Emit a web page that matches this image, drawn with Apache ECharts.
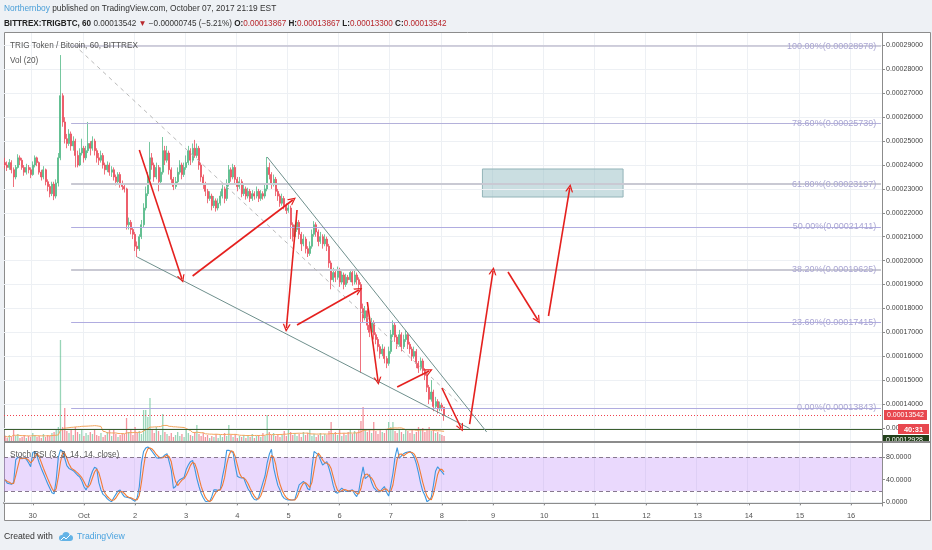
<!DOCTYPE html>
<html><head><meta charset="utf-8">
<script src="https://cdn.jsdelivr.net/npm/echarts@6/dist/echarts.min.js"></script>
<style>html,body{margin:0;padding:0;background:#eef1f5}#c{width:932px;height:550px}</style>
</head><body><div id="c"></div><script>
// Prices in satoshi (1e-8 BTC), hourly candles from Sep 29 11:00
const firstOpen = 24100;
const closes = [
24000,23900,24100,23800,23500,23900,24300,24200,23900,23700,
23900,23800,23600,24000,24300,24100,23700,23500,23800,23300,
23100,22800,23200,22700,23250,24300,26900,25800,25100,24900,
25300,24800,25000,24400,24000,24500,24700,24300,24600,24900,
24700,25000,24600,24300,24200,24400,24000,23800,24000,23700,
23800,23500,23300,23600,23200,23100,23000,21500,21600,21300,
21100,20600,20500,21000,21500,22200,22800,23400,24300,24000,
23500,23900,23300,23700,24600,24200,24500,23800,23400,23100,
23300,23700,24000,23600,23900,24100,24600,24200,24700,24400,
24700,24000,23500,23200,22900,22600,22700,22300,22500,22200,
22400,22700,23000,22600,23200,23800,23500,23900,23400,23100,
23300,22800,23000,22700,22900,22600,22800,22700,22900,22600,
22800,22700,23000,23900,23600,23200,23400,22900,22700,22400,
22600,22300,22100,22200,21500,21000,21300,21600,21100,20700,
20900,20500,20300,20600,21100,21500,21200,20800,21000,20700,
20900,20600,19900,19200,19500,19300,19600,19100,19400,19000,
19300,19200,19500,19100,19400,19200,19000,18000,17600,17900,
17300,17000,17400,16900,16700,16400,16100,16300,15900,15700,
16200,16900,17300,16800,16500,16900,16400,16700,16900,16500,
16300,16000,16200,15700,15500,15800,15400,15200,14700,14200,
14500,13900,14100,13800,13950,13867,13542];
const highs = [
24300,24150,24250,24200,23900,24000,24450,24400,24300,24000,
24050,24000,23900,24150,24400,24350,24150,23800,23950,23850,
23400,23200,23300,23300,23400,24500,28600,27000,26000,25300,
25500,25400,25200,25100,24600,24700,25100,24800,24800,25800,
25000,25200,25100,24700,24500,24600,24500,24100,24150,24100,
23950,23900,23600,23700,23700,23350,23200,23050,21800,21700,
21400,21200,20800,21100,21700,22400,23100,23700,24960,24500,
24100,24100,24000,23900,25170,24800,24800,24600,23900,23500,
23500,23900,24200,24100,24100,24400,24800,24700,24900,25050,
24900,24800,24100,23600,23300,23000,22900,22800,22700,22600,
22600,22900,23200,23100,23400,24000,23900,24050,24000,23500,
23500,23400,23200,23100,23050,23000,22950,22900,23100,23000,
22950,22900,23200,24335,24100,23700,23600,23500,23000,22800,
22800,22700,22400,22350,22300,21600,21500,21800,21700,21200,
21100,21000,20600,20800,21300,21650,21600,21300,21200,21100,
21100,21000,20700,20000,19700,19600,19750,19700,19550,19500,
19450,19400,19650,19600,19600,19500,19300,19100,18200,18100,
18000,17400,17600,17500,17000,16800,16500,16500,16400,16000,
16400,17100,17500,17400,16900,17100,17000,16900,17100,17000,
16600,16400,16400,16300,15800,15950,15900,15500,15300,14800,
15000,14600,14300,14200,14100,14050,13867];
const lows = [
23850,23750,23800,23650,23080,23400,23850,24000,23800,23550,
23600,23650,23450,23550,23900,23950,23600,23350,23400,23150,
22900,22650,22700,22530,22600,23100,24200,25600,24900,24700,
24800,24600,24600,23900,23900,23950,24400,24100,24200,24500,
24400,24600,24400,24100,24000,24100,23850,23600,23700,23550,
23500,23350,23150,23200,23050,22950,22850,21300,21300,21100,
20900,20400,20150,20400,20900,21400,22100,22700,23300,23800,
23300,23400,22900,23200,23600,24000,24100,23600,23200,22950,
23000,23200,23600,23400,23500,23800,24000,24000,24100,24300,
24300,23800,23300,23000,22700,22400,22500,22100,22200,22050,
22100,22300,22600,22400,22500,23100,23300,23400,23200,22900,
23000,22650,22700,22550,22600,22450,22500,22550,22600,22450,
22500,22550,22600,22900,23400,23000,23100,22700,22500,22250,
22300,22150,21950,22000,20900,20800,20900,21200,20900,20400,
20600,20300,20150,20200,20500,21000,21000,20600,20700,20500,
20600,20400,19700,18800,19100,19100,19200,18900,19000,18800,
18900,19050,19100,18950,19000,19000,18800,15300,17400,17500,
17100,16800,16900,16700,16500,16200,15900,16000,15700,15500,
15600,16100,16800,16600,16300,16400,16200,16300,16600,16300,
16100,15800,15900,15500,15300,15400,15200,15000,14500,14000,
14100,13700,13800,13600,13700,13700,13300];
// volume in arbitrary units
const volumes = [
5,3,6,4,11,5,7,3,4,6,
3,5,4,8,6,4,5,3,7,4,
6,5,8,9,12,14,101,14,33,10,
8,12,6,14,9,7,11,5,8,6,
9,7,12,6,5,8,4,6,9,12,
5,11,7,4,6,8,7,23,9,12,
6,14,8,10,7,31,31,24,43,12,
8,14,10,6,27,9,7,5,8,4,
6,9,5,7,4,12,8,6,5,9,
16,7,5,8,4,6,3,5,4,7,
3,6,4,8,5,16,6,4,7,3,
5,4,6,3,5,4,7,3,5,6,
4,8,5,26,9,6,8,5,7,4,
6,10,5,12,9,6,8,5,7,4,
9,6,8,11,5,7,4,6,8,5,
7,6,10,19,7,9,6,11,5,8,
6,9,12,7,10,8,11,20,34,12,
9,11,8,19,10,7,12,9,8,11,
19,14,19,10,8,12,9,7,11,10,
8,12,7,9,14,11,13,9,12,14,
10,12,8,9,7,6,5];
const stochK = [
40,34,33,32,35,75,80,78,77,79,
76,70,63,88,90,82,70,60,51,42,
33,25,17,15,40,80,93,90,78,65,
60,58,56,52,48,45,38,28,22,30,
44,55,62,60,35,22,14,11,6,3,
1,8,14,20,22,15,10,9,8,7,
4,2,8,28,70,90,96,98,95,90,
85,79,78,79,80,84,86,72,57,25,
28,36,40,42,44,58,66,72,74,60,
42,28,16,8,2,1,1,10,22,22,
21,23,45,63,92,92,90,88,65,46,
44,43,43,33,24,18,10,5,4,9,
22,35,47,70,85,94,62,45,30,22,
12,7,5,4,4,4,5,18,31,34,
37,33,24,22,60,90,87,84,75,66,
69,72,60,47,30,18,16,21,25,22,
19,20,21,22,15,10,20,43,63,42,
45,49,35,26,22,19,19,24,28,18,
11,30,51,80,97,78,82,86,88,89,
90,86,80,68,52,34,20,12,1,4,
9,30,55,63,58,54,49];

const dayLabels = ['30','Oct','2','3','4','5','6','7','8','9','10','11','12','13','14','15','16'];
const priceTicks = [13000,14000,15000,16000,17000,18000,19000,20000,21000,22000,23000,24000,25000,26000,27000,28000,29000];
const rsiTicks = [0,40,80];
const fibLevels = [['100.00%',28978],['78.60%',25739],['61.80%',23197],['50.00%',21411],['38.20%',19625],['23.60%',17415],['0.00%',13843]];
const lastPrice = 13542;
const lowLine = 12928;
// drawings: [categoryIndex, price]
const arrows = [
 [[63,24628],[83,19230]], [[88,19356],[135,22536]], [[137,22117],[132,17180]],
 [[137,17306],[166,18770]], [[170,18268],[175,14963]], [[184,14712],[199,15381]],
 [[205,14669],[214,12996]], [[218,13163],[229,19569]], [[236,19523],[250,17515]],
 [[255,17682],[265,23038]]];
const trendLines = [[[62,20151],[218,12975]],[[123,24335],[226,12829]]];
const dashedLine = [[35,28812],[214,13958]];
const targetBox = [[224,23833],[290,22661]];
const fibStart = 31, fibEnd = 411, fibLabelAt = 409;

const N_CAT = 412, FIRST_DAY = 13;
const cats = []; for (let i = 0; i < N_CAT; i++) cats.push('h' + i);
const isDay = i => i >= FIRST_DAY && (i - FIRST_DAY) % 24 === 0;

const opens = closes.map((c, i) => i === 0 ? firstOpen : closes[i - 1]);
const candleData = closes.map((c, i) => [opens[i], c, lows[i], highs[i]]);
const UP = '#53b987', DOWN = '#eb4d5c';
const volData = volumes.map((v, i) => ({value: v, itemStyle: {color: closes[i] >= opens[i] ? 'rgba(83,185,135,0.6)' : 'rgba(235,77,92,0.6)'}}));
const volMA = volumes.map((v, i) => { const s = Math.max(0, i - 19); let t = 0; for (let k = s; k <= i; k++) t += volumes[k]; return +(t / (i - s + 1)).toFixed(2); });
const stochD = stochK.map((v, i) => { const s = Math.max(0, i - 2); let t = 0; for (let k = s; k <= i; k++) t += stochK[k]; return +(t / (i - s + 1)).toFixed(2); });

const FONT = "'Liberation Sans', Arial, sans-serif";
const fmt8 = v => (v / 1e8).toFixed(8);
const ARROW = 'path://M5 0 L10 10 L8.3 10 L5 3.4 L1.7 10 L0 10 Z';
const fibStyle = ['#c2c1d2', '#b4b1da', '#c9c9d3', '#b0ace0', '#c9c9d3', '#b0ace0', '#b0ace0'];
const fibWidth = [1.5, 1, 2, 1, 2, 1, 1];

const chart = echarts.init(document.getElementById('c'), null, {renderer: 'canvas'});
const option = {
  animation: false,
  backgroundColor: '#eef1f5',
  textStyle: {fontFamily: FONT},
  grid: [{left: 4, top: 33, width: 878, height: 408}, {left: 4, top: 443, width: 878, height: 63}],
  xAxis: [
    {type: 'category', gridIndex: 0, data: cats, axisLine: {show: false}, axisTick: {show: false}, axisLabel: {show: false},
     splitLine: {show: true, interval: i => isDay(i), lineStyle: {color: '#edf0f4'}}},
    {type: 'category', gridIndex: 1, data: cats,
     axisLine: {show: true, lineStyle: {color: '#8c8c8c', width: 2}},
     axisTick: {show: true, interval: i => isDay(i), alignWithLabel: true, length: 3, lineStyle: {color: '#8c8c8c'}},
     axisLabel: {interval: i => isDay(i), formatter: (v, i) => dayLabels[(i - FIRST_DAY) / 24], fontSize: 7.5, color: '#555', margin: 6},
     splitLine: {show: true, interval: i => isDay(i), lineStyle: {color: '#edf0f4'}}}
  ],
  yAxis: [
    {type: 'value', gridIndex: 0, position: 'right', min: 12452, max: 29523,
     axisLine: {show: true, lineStyle: {color: '#8c8c8c'}},
     axisTick: {show: true, length: 3, customValues: priceTicks, lineStyle: {color: '#8c8c8c'}},
     axisLabel: {customValues: priceTicks, formatter: fmt8, fontSize: 7, color: '#444', margin: 4},
     splitLine: {show: false}},
    {type: 'value', gridIndex: 0, min: 0, max: 408, show: false},
    {type: 'value', gridIndex: 1, position: 'right', min: -6.5, max: 105,
     axisLine: {show: true, lineStyle: {color: '#8c8c8c'}},
     axisTick: {show: true, length: 3, customValues: rsiTicks, lineStyle: {color: '#8c8c8c'}},
     axisLabel: {customValues: rsiTicks, formatter: v => v.toFixed(4), fontSize: 7, color: '#444', margin: 4},
     splitLine: {show: false}}
  ],
  series: [
    {type: 'line', xAxisIndex: 0, yAxisIndex: 0, data: [], silent: true,
     markLine: {silent: true, z: 1, symbol: ['none', 'none'], label: {show: false}, lineStyle: {color: '#edf0f4', width: 1, type: 'solid'},
       data: priceTicks.map(p => ({yAxis: p}))}},
    {type: 'bar', name: 'vol', xAxisIndex: 0, yAxisIndex: 1, data: volData, barWidth: 1.3, silent: true},
    {type: 'line', name: 'volma', xAxisIndex: 0, yAxisIndex: 1, data: volMA, showSymbol: false, silent: true,
     lineStyle: {color: '#f3a45c', width: 1}},
    {type: 'candlestick', xAxisIndex: 0, yAxisIndex: 0, data: candleData, barWidth: 1.5, silent: true,
     itemStyle: {color: UP, color0: DOWN, borderColor: UP, borderColor0: DOWN, borderWidth: 0.8},
     markArea: {silent: true, itemStyle: {color: 'rgba(150,190,196,0.5)', borderColor: '#93b4b8', borderWidth: 1},
       data: [[{coord: targetBox[0]}, {coord: targetBox[1]}]]},
     markLine: {silent: true, symbol: ['none', 'none'], label: {show: false},
       data: fibLevels.map((f, k) => [{coord: [fibStart, f[1]], lineStyle: {color: fibStyle[k], width: fibWidth[k], type: 'solid'}}, {coord: [fibEnd, f[1]]}])},
     markPoint: {silent: true, symbol: 'rect', symbolSize: 1, itemStyle: {color: 'rgba(0,0,0,0)'},
       label: {show: true, position: 'left', distance: 0, color: '#aaa6d3', fontSize: 9, formatter: p => p.name},
       data: fibLevels.map(f => ({name: f[0] + '(' + fmt8(f[1]) + ')', coord: [fibLabelAt, f[1]]}))}},
    {type: 'line', xAxisIndex: 0, yAxisIndex: 0, data: [], silent: true,
     markLine: {silent: true, symbol: ['none', 'none'], lineStyle: {color: '#f0424e', type: [1, 2], width: 1},
       label: {show: true, position: 'end', distance: 2, formatter: fmt8(lastPrice), color: '#fff', backgroundColor: '#e8474f', padding: [2, 3, 1, 3], fontSize: 7},
       data: [{yAxis: lastPrice}]}},
    {type: 'line', xAxisIndex: 0, yAxisIndex: 0, data: [], silent: true,
     markLine: {silent: true, symbol: ['none', 'none'], lineStyle: {color: '#3b5e2e', type: 'solid', width: 1}, label: {show: false},
       data: [{yAxis: lowLine}]}},
    {type: 'line', xAxisIndex: 0, yAxisIndex: 0, data: [], silent: true,
     markLine: {silent: true, symbol: ['none', 'none'], label: {show: false},
       data: trendLines.map(t => [{coord: t[0], lineStyle: {color: '#6f908d', width: 1, type: 'solid'}}, {coord: t[1]}])
         .concat([[{coord: dashedLine[0], lineStyle: {color: '#b9b9b9', width: 1, type: [4, 4]}}, {coord: dashedLine[1]}]])}},
    {type: 'line', xAxisIndex: 0, yAxisIndex: 0, data: [], silent: true,
     markLine: {silent: true, symbol: ['none', ARROW], symbolSize: 8, label: {show: false},
       lineStyle: {color: '#e5201e', width: 1.6, type: 'solid'},
       data: arrows.map(a => [{coord: a[0]}, {coord: a[1]}])}},
    {type: 'line', name: 'K', xAxisIndex: 1, yAxisIndex: 2, data: stochK, showSymbol: false, silent: true,
     lineStyle: {color: '#3d97df', width: 1.1},
     markArea: {silent: true, itemStyle: {color: 'rgba(190,140,250,0.33)'}, data: [[{yAxis: 20}, {yAxis: 80}]]},
     markLine: {silent: true, symbol: ['none', 'none'], label: {show: false},
       data: [{yAxis: 80, lineStyle: {color: '#87788f', type: [4, 3], width: 1}}, {yAxis: 20, lineStyle: {color: '#87788f', type: [4, 3], width: 1}},
              {yAxis: 0, lineStyle: {color: '#e8ebef', type: 'solid', width: 1}}]}},
    {type: 'line', name: 'D', xAxisIndex: 1, yAxisIndex: 2, data: stochD, showSymbol: false, silent: true,
     lineStyle: {color: '#f07b35', width: 1.1}}
  ],
  graphic: [
    {type: 'rect', z: -10, shape: {x: 4.5, y: 32.5, width: 926, height: 488}, style: {fill: '#fff', stroke: '#8c8c8c', lineWidth: 1}},
    {type: 'text', z: 10, style: {x: 4, y: 9, verticalAlign: 'middle', text: '{a|Northernboy}{b| published on TradingView.com, October 07, 2017 21:19 EST}',
      rich: {a: {fill: '#4a9fd8', fontSize: 8.35, fontFamily: FONT}, b: {fill: '#333', fontSize: 8.35, fontFamily: FONT}}}},
    {type: 'text', z: 10, style: {x: 4, y: 23.5, verticalAlign: 'middle',
      text: '{b|BITTREX:TRIGBTC, 60}{n| 0.00013542 }{r|▼}{n| −0.00000745 (−5.21%) }{b|O:}{r|0.00013867}{b| H:}{r|0.00013867}{b| L:}{r|0.00013300}{b| C:}{r|0.00013542}',
      rich: {b: {fill: '#222', fontSize: 8.15, fontWeight: 'bold', fontFamily: FONT}, n: {fill: '#333', fontSize: 8.15, fontFamily: FONT}, r: {fill: '#b8272c', fontSize: 8.15, fontFamily: FONT}}}},
    {type: 'text', z: 10, style: {x: 10, y: 46, verticalAlign: 'middle', text: 'TRIG Token / Bitcoin, 60, BITTREX', fill: '#555', fontSize: 8.2, fontFamily: FONT}},
    {type: 'text', z: 10, style: {x: 10, y: 60.5, verticalAlign: 'middle', text: 'Vol (20)', fill: '#555', fontSize: 8.2, fontFamily: FONT}},
    {type: 'text', z: 10, style: {x: 10, y: 455, verticalAlign: 'middle', text: 'Stoch RSI (3, 3, 14, 14, close)', fill: '#555', fontSize: 8.2, fontFamily: FONT}},
    {type: 'rect', z: 50, shape: {x: 898, y: 424, width: 31, height: 10}, style: {fill: '#e8474f'}},
    {type: 'text', z: 51, style: {x: 913.5, y: 429.5, align: 'center', verticalAlign: 'middle', text: '40:31', fill: '#fff', fontSize: 7.5, fontWeight: 'bold', fontFamily: FONT}},
    {type: 'rect', z: 50, shape: {x: 883, y: 435, width: 46, height: 8}, style: {fill: '#22401a'}},
    {type: 'text', z: 51, style: {x: 886, y: 440, verticalAlign: 'middle', text: '0.00012928', fill: '#fff', fontSize: 7, fontFamily: FONT}},
    {type: 'rect', z: 100, shape: {x: 4, y: 441, width: 927, height: 2}, style: {fill: '#8c8c8c'}},
    {type: 'text', z: 10, style: {x: 4, y: 537, verticalAlign: 'middle', text: 'Created with', fill: '#333', fontSize: 8.7, fontFamily: FONT}},
    {type: 'circle', z: 10, shape: {cx: 62, cy: 538, r: 3}, style: {fill: '#63b3e6'}},
    {type: 'circle', z: 10, shape: {cx: 66, cy: 535.5, r: 3.6}, style: {fill: '#63b3e6'}},
    {type: 'circle', z: 10, shape: {cx: 70, cy: 538, r: 3}, style: {fill: '#63b3e6'}},
    {type: 'rect', z: 10, shape: {x: 62, y: 538, width: 8, height: 3}, style: {fill: '#63b3e6'}},
    {type: 'polyline', z: 11, shape: {points: [[61, 540], [64, 537], [66, 539], [70, 535]]}, style: {stroke: '#fff', lineWidth: 1, fill: null}},
    {type: 'text', z: 10, style: {x: 77, y: 537, verticalAlign: 'middle', text: 'TradingView', fill: '#4aa3df', fontSize: 8.7, fontFamily: FONT}}
  ]
};
chart.setOption(option);
</script></body></html>
